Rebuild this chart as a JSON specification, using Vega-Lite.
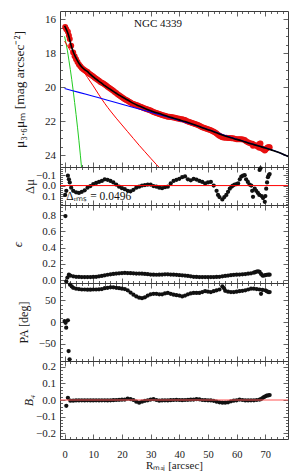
{
"$schema": "https://vega.github.io/schema/vega-lite/v6.json",
"padding": {"left": 10, "top": 10, "right": 8, "bottom": 0},
"spacing": 0,
"bounds": "flush",
"resolve": {"scale": {"x": "independent", "y": "independent"}},
"config": {
  "font": "Liberation Serif",
  "view": {"stroke": "#3a3a3a", "strokeWidth": 1},
  "axis": {"domain": false, "grid": false, "labelFont": "Liberation Serif", "labelFontSize": 11, "labelColor": "#1a1a1a", "titleFont": "Liberation Serif", "titleFontSize": 12, "titleFontWeight": "normal", "titleColor": "#1a1a1a", "tickColor": "#3a3a3a", "tickWidth": 0.8, "labelOverlap": false, "labelFlush": false, "labelBound": false}
},
"datasets": {
  "prof": [
    {"r":0.2,"mu":16.45},{"r":0.6,"mu":16.58},{"r":1.15,"mu":16.73},{"r":1.5,"mu":16.94},{"r":1.8,"mu":17.15},{"r":2.3,"mu":17.55},{"r":3,"mu":17.95},{"r":3.5,"mu":18.17},{"r":4,"mu":18.35},{"r":4.5,"mu":18.51},{"r":5,"mu":18.65},{"r":5.5,"mu":18.76},{"r":6,"mu":18.86},{"r":6.5,"mu":18.93},{"r":7,"mu":19.0},{"r":7.5,"mu":19.05},{"r":8,"mu":19.1},{"r":8.5,"mu":19.18},{"r":9,"mu":19.25},{"r":9.5,"mu":19.31},{"r":10,"mu":19.37},{"r":10.5,"mu":19.44},{"r":11,"mu":19.5},{"r":11.5,"mu":19.56},{"r":12,"mu":19.62},{"r":12.5,"mu":19.68},{"r":13,"mu":19.73},{"r":13.5,"mu":19.78},{"r":14,"mu":19.84},{"r":14.5,"mu":19.9},{"r":15,"mu":19.97},{"r":15.5,"mu":20.03},{"r":16,"mu":20.09},{"r":16.5,"mu":20.15},{"r":17,"mu":20.21},{"r":17.5,"mu":20.28},{"r":18,"mu":20.34},{"r":18.5,"mu":20.41},{"r":19,"mu":20.47},{"r":19.5,"mu":20.53},{"r":20,"mu":20.59},{"r":20.5,"mu":20.65},{"r":21,"mu":20.7},{"r":21.5,"mu":20.75},{"r":22,"mu":20.8},{"r":22.5,"mu":20.85},{"r":23,"mu":20.9},{"r":23.5,"mu":20.95},{"r":24,"mu":20.99},{"r":24.5,"mu":21.02},{"r":25,"mu":21.05},{"r":25.5,"mu":21.08},{"r":26,"mu":21.11},{"r":26.5,"mu":21.15},{"r":27,"mu":21.18},{"r":27.5,"mu":21.22},{"r":28,"mu":21.25},{"r":28.5,"mu":21.28},{"r":29,"mu":21.31},{"r":29.5,"mu":21.34},{"r":30,"mu":21.37},{"r":30.5,"mu":21.41},{"r":31,"mu":21.45},{"r":31.5,"mu":21.48},{"r":32,"mu":21.51},{"r":32.5,"mu":21.54},{"r":33,"mu":21.57},{"r":33.5,"mu":21.6},{"r":34,"mu":21.63},{"r":34.5,"mu":21.66},{"r":35,"mu":21.68},{"r":35.5,"mu":21.71},{"r":36,"mu":21.73},{"r":36.5,"mu":21.74},{"r":37,"mu":21.75},{"r":37.5,"mu":21.77},{"r":38,"mu":21.78},{"r":38.5,"mu":21.8},{"r":39,"mu":21.82},{"r":39.5,"mu":21.84},{"r":40,"mu":21.86},{"r":40.5,"mu":21.88},{"r":41,"mu":21.89},{"r":41.5,"mu":21.91},{"r":42,"mu":21.93},{"r":42.5,"mu":21.98},{"r":43,"mu":22.02},{"r":43.5,"mu":22.05},{"r":44,"mu":22.08},{"r":44.5,"mu":22.1},{"r":45,"mu":22.13},{"r":45.5,"mu":22.16},{"r":46,"mu":22.19},{"r":46.5,"mu":22.23},{"r":47,"mu":22.27},{"r":47.5,"mu":22.31},{"r":48,"mu":22.35},{"r":48.5,"mu":22.39},{"r":49,"mu":22.42},{"r":49.5,"mu":22.45},{"r":50,"mu":22.47},{"r":50.5,"mu":22.5},{"r":51,"mu":22.53},{"r":51.5,"mu":22.57},{"r":52,"mu":22.62},{"r":52.5,"mu":22.67},{"r":53,"mu":22.73},{"r":53.5,"mu":22.8},{"r":54,"mu":22.86},{"r":54.5,"mu":22.9},{"r":55,"mu":22.94},{"r":55.7,"mu":22.97},{"r":56.4,"mu":22.98},{"r":57,"mu":22.99},{"r":57.6,"mu":22.99},{"r":58.2,"mu":23.0},{"r":58.7,"mu":23.01},{"r":59.3,"mu":23.03},{"r":60,"mu":23.06},{"r":60.5,"mu":23.07},{"r":61.1,"mu":23.07},{"r":61.6,"mu":23.06},{"r":62.2,"mu":23.08},{"r":62.8,"mu":23.11},{"r":63.3,"mu":23.18},{"r":63.9,"mu":23.24},{"r":64.5,"mu":23.29},{"r":65.1,"mu":23.33},{"r":65.5,"mu":23.33},{"r":65.7,"mu":23.45},{"r":66.3,"mu":23.4},{"r":66.8,"mu":23.45},{"r":67.4,"mu":23.5},{"r":67.9,"mu":23.56},{"r":68.0,"mu":23.33},{"r":68.3,"mu":23.32},{"r":68.7,"mu":23.6},{"r":69.2,"mu":23.65},{"r":69.8,"mu":23.72},{"r":70.0,"mu":23.68},{"r":70.3,"mu":23.63},{"r":70.6,"mu":23.58},{"r":70.9,"mu":23.54},{"r":71.2,"mu":23.53},{"r":71.5,"mu":23.53}
  ],
  "total": [
    {"r":0,"mu":16.38},{"r":0.5,"mu":16.55},{"r":1,"mu":16.75},{"r":1.5,"mu":17.0},{"r":2,"mu":17.35},{"r":2.5,"mu":17.65},{"r":3,"mu":17.9},{"r":3.5,"mu":18.1},{"r":4,"mu":18.28},{"r":5,"mu":18.58},{"r":6,"mu":18.8},{"r":7,"mu":18.96},{"r":8,"mu":19.08},{"r":9,"mu":19.24},{"r":10,"mu":19.38},{"r":11,"mu":19.52},{"r":12,"mu":19.65},{"r":13,"mu":19.77},{"r":14,"mu":19.9},{"r":15,"mu":20.02},{"r":16,"mu":20.13},{"r":17,"mu":20.24},{"r":18,"mu":20.35},{"r":19,"mu":20.46},{"r":20,"mu":20.56},{"r":22,"mu":20.75},{"r":24,"mu":20.95},{"r":26,"mu":21.1},{"r":28,"mu":21.25},{"r":30,"mu":21.38},{"r":32,"mu":21.5},{"r":34,"mu":21.6},{"r":36,"mu":21.72},{"r":38,"mu":21.82},{"r":40,"mu":21.92},{"r":42,"mu":22.02},{"r":44,"mu":22.13},{"r":46,"mu":22.25},{"r":48,"mu":22.38},{"r":50,"mu":22.5},{"r":52,"mu":22.62},{"r":54,"mu":22.75},{"r":56,"mu":22.87},{"r":58,"mu":22.98},{"r":60,"mu":23.07},{"r":62,"mu":23.17},{"r":64,"mu":23.28},{"r":66,"mu":23.38},{"r":68,"mu":23.48},{"r":70,"mu":23.58},{"r":72,"mu":23.69},{"r":74,"mu":23.8},{"r":76,"mu":23.93},{"r":78,"mu":24.08}
  ],
  "bulge": [
    {"r":0,"mu":17.28},{"r":1,"mu":17.55},{"r":2,"mu":17.83},{"r":3,"mu":18.1},{"r":4,"mu":18.37},{"r":6,"mu":18.9},{"r":8,"mu":19.42},{"r":10,"mu":19.92},{"r":12,"mu":20.45},{"r":14,"mu":20.95},{"r":16,"mu":21.4},{"r":18,"mu":21.82},{"r":20,"mu":22.22},{"r":22,"mu":22.62},{"r":24,"mu":23.02},{"r":26,"mu":23.42},{"r":28,"mu":23.8},{"r":30,"mu":24.18},{"r":32,"mu":24.55},{"r":34,"mu":24.9}
  ],
  "disk": [
    {"r":0,"mu":20.07},{"r":5,"mu":20.3},{"r":10,"mu":20.53},{"r":15,"mu":20.76},{"r":20,"mu":21.0},{"r":25,"mu":21.23},{"r":30,"mu":21.47},{"r":35,"mu":21.71},{"r":40,"mu":21.95},{"r":45,"mu":22.21},{"r":50,"mu":22.49},{"r":55,"mu":22.78},{"r":60,"mu":23.06},{"r":65,"mu":23.32},{"r":70,"mu":23.57},{"r":74,"mu":23.8},{"r":78,"mu":24.08}
  ],
  "nuc": [
    {"r":0,"mu":17.0},{"r":0.5,"mu":17.4},{"r":1,"mu":17.85},{"r":1.5,"mu":18.4},{"r":2,"mu":18.95},{"r":2.5,"mu":19.55},{"r":3,"mu":20.2},{"r":3.5,"mu":20.9},{"r":4,"mu":21.6},{"r":4.5,"mu":22.35},{"r":5,"mu":23.15},{"r":5.5,"mu":24.0},{"r":6,"mu":24.9}
  ],
  "dmu": [
    {"r":0.2,"v":0.09},{"r":0.6,"v":0.05},{"r":1.15,"v":-0.095},{"r":1.5,"v":-0.06},{"r":1.8,"v":-0.03},{"r":2.3,"v":0.02},{"r":3,"v":0.05},{"r":4,"v":0.065},{"r":5,"v":0.07},{"r":6,"v":0.06},{"r":7,"v":0.045},{"r":8,"v":0.02},{"r":9,"v":0.005},{"r":10,"v":-0.015},{"r":11,"v":-0.025},{"r":12,"v":-0.035},{"r":13,"v":-0.045},{"r":14,"v":-0.06},{"r":15,"v":-0.055},{"r":16,"v":-0.045},{"r":17,"v":-0.03},{"r":18,"v":-0.01},{"r":19,"v":0.01},{"r":20,"v":0.025},{"r":21,"v":0.035},{"r":22,"v":0.05},{"r":23,"v":0.055},{"r":24,"v":0.04},{"r":25,"v":0.02},{"r":26,"v":0.01},{"r":27,"v":0},{"r":28,"v":-0.005},{"r":29,"v":-0.01},{"r":30,"v":-0.01},{"r":31,"v":0.005},{"r":32,"v":0.01},{"r":33,"v":0.02},{"r":34,"v":0.025},{"r":35,"v":0.015},{"r":36,"v":0.01},{"r":37,"v":-0.02},{"r":38,"v":-0.045},{"r":39,"v":-0.055},{"r":40,"v":-0.065},{"r":41,"v":-0.08},{"r":42,"v":-0.088},{"r":43,"v":-0.06},{"r":44,"v":-0.05},{"r":45,"v":-0.065},{"r":46,"v":-0.058},{"r":47,"v":-0.045},{"r":48,"v":-0.035},{"r":49,"v":-0.02},{"r":50,"v":-0.03},{"r":51,"v":-0.035},{"r":52,"v":0},{"r":53,"v":0.05},{"r":53.5,"v":0.09},{"r":54,"v":0.11},{"r":55,"v":0.133},{"r":55.7,"v":0.11},{"r":56.4,"v":0.09},{"r":57,"v":0.06},{"r":57.6,"v":0.03},{"r":58.2,"v":0.01},{"r":58.7,"v":0},{"r":59.3,"v":-0.01},{"r":60,"v":-0.015},{"r":60.5,"v":-0.02},{"r":61.1,"v":-0.06},{"r":61.6,"v":-0.085},{"r":62.2,"v":-0.095},{"r":62.8,"v":-0.1},{"r":63.3,"v":-0.06},{"r":63.9,"v":-0.035},{"r":64.5,"v":-0.01},{"r":65.1,"v":0},{"r":65.4,"v":0.05},{"r":65.7,"v":0.108},{"r":66.3,"v":0.03},{"r":66.8,"v":0.05},{"r":67.4,"v":0.07},{"r":67.9,"v":0.09},{"r":68.0,"v":-0.15},{"r":68.3,"v":-0.165},{"r":68.7,"v":0.1},{"r":69.2,"v":0.12},{"r":69.8,"v":0.155},{"r":70.0,"v":0.1},{"r":70.3,"v":0.03},{"r":70.6,"v":-0.03},{"r":70.9,"v":-0.08},{"r":71.2,"v":-0.1},{"r":71.5,"v":-0.11}
  ],
  "ell": [
    {"r":0.3,"v":0.79},{"r":0.6,"v":-0.02},{"r":1.0,"v":0.03},{"r":1.5,"v":0.066},{"r":2,"v":0.055},{"r":3,"v":0.046},{"r":4,"v":0.04},{"r":5,"v":0.038},{"r":6,"v":0.037},{"r":7,"v":0.036},{"r":8,"v":0.036},{"r":9,"v":0.037},{"r":10,"v":0.038},{"r":11,"v":0.04},{"r":12,"v":0.045},{"r":13,"v":0.05},{"r":14,"v":0.058},{"r":15,"v":0.065},{"r":16,"v":0.07},{"r":17,"v":0.075},{"r":18,"v":0.08},{"r":19,"v":0.083},{"r":20,"v":0.086},{"r":21,"v":0.087},{"r":22,"v":0.086},{"r":23,"v":0.085},{"r":24,"v":0.083},{"r":25,"v":0.08},{"r":26,"v":0.08},{"r":27,"v":0.078},{"r":28,"v":0.075},{"r":29,"v":0.072},{"r":30,"v":0.068},{"r":31,"v":0.066},{"r":32,"v":0.065},{"r":33,"v":0.066},{"r":34,"v":0.068},{"r":35,"v":0.07},{"r":36,"v":0.07},{"r":37,"v":0.068},{"r":38,"v":0.066},{"r":39,"v":0.064},{"r":40,"v":0.06},{"r":41,"v":0.058},{"r":42,"v":0.055},{"r":43,"v":0.05},{"r":44,"v":0.045},{"r":45,"v":0.04},{"r":46,"v":0.038},{"r":47,"v":0.037},{"r":48,"v":0.037},{"r":49,"v":0.036},{"r":50,"v":0.036},{"r":51,"v":0.037},{"r":52,"v":0.037},{"r":53,"v":0.038},{"r":54,"v":0.04},{"r":55,"v":0.046},{"r":56,"v":0.05},{"r":57,"v":0.055},{"r":58,"v":0.06},{"r":59,"v":0.064},{"r":60,"v":0.066},{"r":61,"v":0.068},{"r":62,"v":0.07},{"r":63,"v":0.073},{"r":64,"v":0.078},{"r":65,"v":0.082},{"r":66,"v":0.09},{"r":66.5,"v":0.098},{"r":67,"v":0.105},{"r":67.5,"v":0.108},{"r":68,"v":0.1},{"r":68.5,"v":0.075},{"r":69,"v":0.055},{"r":69.5,"v":0.055},{"r":70,"v":0.06},{"r":70.5,"v":0.065},{"r":71,"v":0.066},{"r":71.5,"v":0.066}
  ],
  "pa": [
    {"r":0,"v":2.3},{"r":0.35,"v":-2},{"r":0.56,"v":-13},{"r":1.15,"v":3.9},{"r":1.4,"v":-67},{"r":1.74,"v":-86},{"r":1.9,"v":86},{"r":2.5,"v":82},{"r":3,"v":79},{"r":4,"v":77},{"r":5,"v":76},{"r":6,"v":75},{"r":7,"v":75},{"r":8,"v":74.5},{"r":9,"v":74.5},{"r":10,"v":75},{"r":11,"v":75},{"r":12,"v":75.5},{"r":13,"v":76},{"r":14,"v":78},{"r":15,"v":79},{"r":16,"v":80},{"r":17,"v":80},{"r":18,"v":79},{"r":19,"v":78},{"r":20,"v":77},{"r":21,"v":76},{"r":22,"v":73},{"r":23,"v":68},{"r":24,"v":63},{"r":25,"v":59},{"r":26,"v":56},{"r":27,"v":55},{"r":28,"v":57},{"r":29,"v":61},{"r":30,"v":64},{"r":31,"v":65},{"r":32,"v":65},{"r":33,"v":64},{"r":34,"v":64},{"r":35,"v":66},{"r":36,"v":67},{"r":37,"v":65},{"r":38,"v":63},{"r":39,"v":62},{"r":40,"v":61},{"r":41,"v":59},{"r":42,"v":61},{"r":43,"v":64},{"r":44,"v":66},{"r":45,"v":67},{"r":46,"v":67},{"r":47,"v":67},{"r":48,"v":69},{"r":49,"v":71},{"r":50,"v":70},{"r":51,"v":69},{"r":52,"v":71},{"r":53,"v":73},{"r":54,"v":75},{"r":55,"v":82},{"r":55.6,"v":78},{"r":56,"v":72},{"r":57,"v":70},{"r":58,"v":69},{"r":59,"v":69},{"r":60,"v":70},{"r":61,"v":71},{"r":62,"v":72},{"r":63,"v":73},{"r":64,"v":75},{"r":65,"v":77},{"r":66,"v":77},{"r":67,"v":76},{"r":68,"v":75},{"r":68.5,"v":65},{"r":69,"v":74},{"r":70,"v":73},{"r":70.5,"v":71},{"r":71,"v":69},{"r":71.5,"v":69}
  ],
  "b4": [
    {"r":0.6,"v":-0.035},{"r":1.15,"v":0.013},{"r":2,"v":-0.004},{"r":3,"v":-0.004},{"r":4,"v":-0.003},{"r":5,"v":-0.003},{"r":6,"v":-0.002},{"r":7,"v":-0.003},{"r":8,"v":-0.002},{"r":9,"v":-0.003},{"r":10,"v":-0.003},{"r":11,"v":-0.002},{"r":12,"v":-0.003},{"r":13,"v":-0.002},{"r":14,"v":-0.002},{"r":15,"v":-0.003},{"r":16,"v":-0.002},{"r":17,"v":-0.001},{"r":18,"v":0},{"r":19,"v":0.001},{"r":20,"v":0.002},{"r":21,"v":0.003},{"r":22,"v":0.008},{"r":23,"v":0.006},{"r":24,"v":0},{"r":25,"v":-0.01},{"r":26,"v":-0.016},{"r":27,"v":-0.01},{"r":28,"v":-0.005},{"r":29,"v":-0.002},{"r":30,"v":0.003},{"r":31,"v":0.005},{"r":32,"v":0},{"r":33,"v":-0.004},{"r":34,"v":-0.003},{"r":35,"v":-0.002},{"r":36,"v":-0.003},{"r":37,"v":-0.001},{"r":38,"v":0},{"r":39,"v":0.001},{"r":40,"v":0},{"r":41,"v":-0.001},{"r":42,"v":0},{"r":43,"v":0.001},{"r":44,"v":0.002},{"r":45,"v":0.003},{"r":46,"v":0.005},{"r":47,"v":0.004},{"r":48,"v":0},{"r":49,"v":-0.001},{"r":50,"v":-0.002},{"r":51,"v":-0.003},{"r":52,"v":-0.005},{"r":53,"v":-0.01},{"r":54,"v":-0.014},{"r":55,"v":-0.016},{"r":56,"v":-0.016},{"r":57,"v":-0.014},{"r":58,"v":-0.008},{"r":59,"v":-0.004},{"r":60,"v":-0.002},{"r":61,"v":0.003},{"r":62,"v":0},{"r":63,"v":-0.003},{"r":64,"v":-0.003},{"r":65,"v":-0.002},{"r":66,"v":-0.002},{"r":67,"v":0},{"r":68,"v":0.003},{"r":68.5,"v":0.006},{"r":69,"v":0.012},{"r":69.5,"v":0.018},{"r":70,"v":0.022},{"r":70.5,"v":0.026},{"r":71,"v":0.028},{"r":71.5,"v":0.03}
  ]
},
"vconcat": [
  {
    "width": 228, "height": 156,
    "resolve": {"axis": {"x": "independent", "y": "independent"}},
    "layer": [
      {"data": {"name": "prof"},
       "mark": {"type": "point", "filled": true, "shape": "circle", "size": 36, "fill": "#e81010", "opacity": 1},
       "encoding": {
         "x": {"field": "r", "type": "quantitative", "scale": {"domain": [-1.6, 77.9], "nice": false, "zero": false},
               "axis": {"orient": "bottom", "values": [0,10,20,30,40,50,60,70], "labels": false, "tickSize": -5, "title": null, "minExtent": 0, "maxExtent": 0}},
         "y": {"field": "mu", "type": "quantitative", "scale": {"domain": [15.5, 24.7], "reverse": true, "nice": false, "zero": false},
               "axis": {"orient": "left", "values": [16,18,20,22,24], "tickSize": -5, "format": "d", "labelPadding": 9.5, "title": "μ₃.₆μₘ [mag arcsec⁻²]", "titleFontSize": 13.5, "titlePadding": 0, "minExtent": 34, "maxExtent": 34}}
       }},
      {"data": {"name": "nuc"}, "mark": {"type": "line", "clip": true, "color": "#22cc22", "strokeWidth": 1},
       "encoding": {"x": {"field": "r", "type": "quantitative", "scale": {"domain": [-1.6, 77.9], "nice": false, "zero": false}, "axis": null},
                    "y": {"field": "mu", "type": "quantitative", "scale": {"domain": [15.5, 24.7], "reverse": true, "nice": false, "zero": false}, "axis": null}}},
      {"data": {"name": "bulge"}, "mark": {"type": "line", "clip": true, "color": "#ff0000", "strokeWidth": 1, "interpolate": "monotone"},
       "encoding": {"x": {"field": "r", "type": "quantitative", "scale": {"domain": [-1.6, 77.9], "nice": false, "zero": false}, "axis": null},
                    "y": {"field": "mu", "type": "quantitative", "scale": {"domain": [15.5, 24.7], "reverse": true, "nice": false, "zero": false}, "axis": null}}},
      {"data": {"name": "disk"}, "mark": {"type": "line", "clip": true, "color": "#0000ff", "strokeWidth": 1.1, "interpolate": "monotone"},
       "encoding": {"x": {"field": "r", "type": "quantitative", "scale": {"domain": [-1.6, 77.9], "nice": false, "zero": false}, "axis": null},
                    "y": {"field": "mu", "type": "quantitative", "scale": {"domain": [15.5, 24.7], "reverse": true, "nice": false, "zero": false}, "axis": null}}},
      {"data": {"name": "total"}, "mark": {"type": "line", "clip": true, "color": "#000000", "strokeWidth": 1.6, "interpolate": "monotone"},
       "encoding": {"x": {"field": "r", "type": "quantitative", "scale": {"domain": [-1.6, 77.9], "nice": false, "zero": false}, "axis": null},
                    "y": {"field": "mu", "type": "quantitative", "scale": {"domain": [15.5, 24.7], "reverse": true, "nice": false, "zero": false}, "axis": null}}},
      {"data": {"values": [{"r": 32.6, "mu": 16.27, "label": "NGC 4339"}]},
       "mark": {"type": "text", "font": "Liberation Serif", "fontSize": 11, "align": "center", "baseline": "middle", "color": "#111"},
       "encoding": {"x": {"field": "r", "type": "quantitative", "scale": {"domain": [-1.6, 77.9], "nice": false, "zero": false}, "axis": null},
                    "y": {"field": "mu", "type": "quantitative", "scale": {"domain": [15.5, 24.7], "reverse": true, "nice": false, "zero": false}, "axis": null},
                    "text": {"field": "label"}}},
      {"data": {"name": "disk"}, "mark": {"type": "point", "opacity": 0},
       "encoding": {
         "x": {"field": "r", "type": "quantitative", "scale": {"domain": [-1.6, 77.9], "nice": false, "zero": false},
               "axis": {"orient": "top", "values": [0,10,20,30,40,50,60,70], "labels": false, "tickSize": -5, "title": null, "minExtent": 0, "maxExtent": 0}},
         "y": {"field": "mu", "type": "quantitative", "scale": {"domain": [15.5, 24.7], "reverse": true, "nice": false, "zero": false},
               "axis": {"orient": "right", "values": [16,18,20,22,24], "labels": false, "tickSize": -5, "title": null, "minExtent": 0, "maxExtent": 0}}
       }},
      {"data": {"name": "disk"}, "mark": {"type": "point", "opacity": 0},
       "encoding": {
         "x": {"field": "r", "type": "quantitative", "scale": {"domain": [-1.6, 77.9], "nice": false, "zero": false},
               "axis": {"orient": "bottom", "values": [2,4,6,8,12,14,16,18,22,24,26,28,32,34,36,38,42,44,46,48,52,54,56,58,62,64,66,68,72,74,76], "labels": false, "tickSize": -2.5, "title": null, "minExtent": 0, "maxExtent": 0}},
         "y": {"field": "mu", "type": "quantitative", "scale": {"domain": [15.5, 24.7], "reverse": true, "nice": false, "zero": false},
               "axis": {"orient": "left", "values": [16.5,17,17.5,18.5,19,19.5,20.5,21,21.5,22.5,23,23.5,24.5], "labels": false, "tickSize": -2.5, "title": null, "minExtent": 0, "maxExtent": 0}}
       }},
      {"data": {"name": "disk"}, "mark": {"type": "point", "opacity": 0},
       "encoding": {
         "x": {"field": "r", "type": "quantitative", "scale": {"domain": [-1.6, 77.9], "nice": false, "zero": false},
               "axis": {"orient": "top", "values": [2,4,6,8,12,14,16,18,22,24,26,28,32,34,36,38,42,44,46,48,52,54,56,58,62,64,66,68,72,74,76], "labels": false, "tickSize": -2.5, "title": null, "minExtent": 0, "maxExtent": 0}},
         "y": {"field": "mu", "type": "quantitative", "scale": {"domain": [15.5, 24.7], "reverse": true, "nice": false, "zero": false},
               "axis": {"orient": "right", "values": [16.5,17,17.5,18.5,19,19.5,20.5,21,21.5,22.5,23,23.5,24.5], "labels": false, "tickSize": -2.5, "title": null, "minExtent": 0, "maxExtent": 0}}
       }}
    ]
  },
  {
    "width": 228, "height": 38,
    "resolve": {"axis": {"x": "independent", "y": "independent"}},
    "layer": [
      {"data": {"name": "dmu"},
       "mark": {"type": "circle", "size": 18, "color": "#111", "opacity": 1},
       "encoding": {
         "x": {"field": "r", "type": "quantitative", "scale": {"domain": [-1.6, 77.9], "nice": false, "zero": false},
               "axis": {"orient": "bottom", "values": [0,10,20,30,40,50,60,70], "labels": false, "tickSize": -5, "title": null, "minExtent": 0, "maxExtent": 0}},
         "y": {"field": "v", "type": "quantitative", "scale": {"domain": [-0.178, 0.186], "reverse": true, "nice": false, "zero": false},
               "axis": {"orient": "left", "values": [-0.1, 0, 0.1], "tickSize": -5, "format": ".1f", "labelPadding": 9.5, "title": "Δμ", "titleFontSize": 12.5, "titlePadding": 0, "minExtent": 24, "maxExtent": 24}}
       }},
      {"data": {"values": [{"v": 0}]}, "mark": {"type": "rule", "color": "#ff0000", "strokeWidth": 1},
       "encoding": {"y": {"field": "v", "type": "quantitative", "scale": {"domain": [-0.178, 0.186], "reverse": true, "nice": false, "zero": false}, "axis": null}}},
      {"data": {"values": [{"r": 0.6, "v": 0.14, "label": "Δᵣₘₛ = 0.0496"}]},
       "mark": {"type": "text", "font": "Liberation Serif", "fontSize": 11.5, "align": "left", "baseline": "alphabetic", "color": "#111"},
       "encoding": {"x": {"field": "r", "type": "quantitative", "scale": {"domain": [-1.6, 77.9], "nice": false, "zero": false}, "axis": null},
                    "y": {"field": "v", "type": "quantitative", "scale": {"domain": [-0.178, 0.186], "reverse": true, "nice": false, "zero": false}, "axis": null},
                    "text": {"field": "label"}}},
      {"data": {"name": "dmu"}, "mark": {"type": "point", "opacity": 0},
       "encoding": {
         "x": {"field": "r", "type": "quantitative", "scale": {"domain": [-1.6, 77.9], "nice": false, "zero": false},
               "axis": {"orient": "top", "values": [0,10,20,30,40,50,60,70], "labels": false, "tickSize": -5, "title": null, "minExtent": 0, "maxExtent": 0}},
         "y": {"field": "v", "type": "quantitative", "scale": {"domain": [-0.178, 0.186], "reverse": true, "nice": false, "zero": false},
               "axis": {"orient": "right", "values": [-0.1, 0, 0.1], "labels": false, "tickSize": -5, "title": null, "minExtent": 0, "maxExtent": 0}}
       }},
      {"data": {"name": "dmu"}, "mark": {"type": "point", "opacity": 0},
       "encoding": {
         "x": {"field": "r", "type": "quantitative", "scale": {"domain": [-1.6, 77.9], "nice": false, "zero": false},
               "axis": {"orient": "bottom", "values": [2,4,6,8,12,14,16,18,22,24,26,28,32,34,36,38,42,44,46,48,52,54,56,58,62,64,66,68,72,74,76], "labels": false, "tickSize": -2.5, "title": null, "minExtent": 0, "maxExtent": 0}},
         "y": {"field": "v", "type": "quantitative", "scale": {"domain": [-0.178, 0.186], "reverse": true, "nice": false, "zero": false},
               "axis": {"orient": "left", "values": [-0.16,-0.14,-0.12,-0.08,-0.06,-0.04,-0.02,0.02,0.04,0.06,0.08,0.12,0.14,0.16,0.18], "labels": false, "tickSize": -2.5, "title": null, "minExtent": 0, "maxExtent": 0}}
       }},
      {"data": {"name": "dmu"}, "mark": {"type": "point", "opacity": 0},
       "encoding": {
         "x": {"field": "r", "type": "quantitative", "scale": {"domain": [-1.6, 77.9], "nice": false, "zero": false},
               "axis": {"orient": "top", "values": [2,4,6,8,12,14,16,18,22,24,26,28,32,34,36,38,42,44,46,48,52,54,56,58,62,64,66,68,72,74,76], "labels": false, "tickSize": -2.5, "title": null, "minExtent": 0, "maxExtent": 0}},
         "y": {"field": "v", "type": "quantitative", "scale": {"domain": [-0.178, 0.186], "reverse": true, "nice": false, "zero": false},
               "axis": {"orient": "right", "values": [-0.16,-0.14,-0.12,-0.08,-0.06,-0.04,-0.02,0.02,0.04,0.06,0.08,0.12,0.14,0.16,0.18], "labels": false, "tickSize": -2.5, "title": null, "minExtent": 0, "maxExtent": 0}}
       }}
    ]
  },
  {
    "width": 228, "height": 78,
    "resolve": {"axis": {"x": "independent", "y": "independent"}},
    "layer": [
      {"data": {"name": "ell"},
       "mark": {"type": "circle", "size": 18, "color": "#111", "opacity": 1},
       "encoding": {
         "x": {"field": "r", "type": "quantitative", "scale": {"domain": [-1.6, 77.9], "nice": false, "zero": false},
               "axis": {"orient": "bottom", "values": [0,10,20,30,40,50,60,70], "labels": false, "tickSize": -5, "title": null, "minExtent": 0, "maxExtent": 0}},
         "y": {"field": "v", "type": "quantitative", "scale": {"domain": [-0.037, 0.927], "nice": false, "zero": false},
               "axis": {"orient": "left", "values": [0, 0.2, 0.4, 0.6, 0.8], "tickSize": -5, "format": ".1f", "labelPadding": 9.5, "title": "ϵ", "titleFontSize": 13, "titleFontStyle": "italic", "titlePadding": 0, "minExtent": 36, "maxExtent": 36}}
       }},
      {"data": {"name": "ell"}, "mark": {"type": "point", "opacity": 0},
       "encoding": {
         "x": {"field": "r", "type": "quantitative", "scale": {"domain": [-1.6, 77.9], "nice": false, "zero": false},
               "axis": {"orient": "top", "values": [0,10,20,30,40,50,60,70], "labels": false, "tickSize": -5, "title": null, "minExtent": 0, "maxExtent": 0}},
         "y": {"field": "v", "type": "quantitative", "scale": {"domain": [-0.037, 0.927], "nice": false, "zero": false},
               "axis": {"orient": "right", "values": [0, 0.2, 0.4, 0.6, 0.8], "labels": false, "tickSize": -5, "title": null, "minExtent": 0, "maxExtent": 0}}
       }},
      {"data": {"name": "ell"}, "mark": {"type": "point", "opacity": 0},
       "encoding": {
         "x": {"field": "r", "type": "quantitative", "scale": {"domain": [-1.6, 77.9], "nice": false, "zero": false},
               "axis": {"orient": "bottom", "values": [2,4,6,8,12,14,16,18,22,24,26,28,32,34,36,38,42,44,46,48,52,54,56,58,62,64,66,68,72,74,76], "labels": false, "tickSize": -2.5, "title": null, "minExtent": 0, "maxExtent": 0}},
         "y": {"field": "v", "type": "quantitative", "scale": {"domain": [-0.037, 0.927], "nice": false, "zero": false},
               "axis": {"orient": "left", "values": [0.05,0.1,0.15,0.25,0.3,0.35,0.45,0.5,0.55,0.65,0.7,0.75,0.85,0.9], "labels": false, "tickSize": -2.5, "title": null, "minExtent": 0, "maxExtent": 0}}
       }},
      {"data": {"name": "ell"}, "mark": {"type": "point", "opacity": 0},
       "encoding": {
         "x": {"field": "r", "type": "quantitative", "scale": {"domain": [-1.6, 77.9], "nice": false, "zero": false},
               "axis": {"orient": "top", "values": [2,4,6,8,12,14,16,18,22,24,26,28,32,34,36,38,42,44,46,48,52,54,56,58,62,64,66,68,72,74,76], "labels": false, "tickSize": -2.5, "title": null, "minExtent": 0, "maxExtent": 0}},
         "y": {"field": "v", "type": "quantitative", "scale": {"domain": [-0.037, 0.927], "nice": false, "zero": false},
               "axis": {"orient": "right", "values": [0.05,0.1,0.15,0.25,0.3,0.35,0.45,0.5,0.55,0.65,0.7,0.75,0.85,0.9], "labels": false, "tickSize": -2.5, "title": null, "minExtent": 0, "maxExtent": 0}}
       }}
    ]
  },
  {
    "width": 228, "height": 78,
    "resolve": {"axis": {"x": "independent", "y": "independent"}},
    "layer": [
      {"data": {"name": "pa"},
       "mark": {"type": "circle", "size": 18, "color": "#111", "opacity": 1},
       "encoding": {
         "x": {"field": "r", "type": "quantitative", "scale": {"domain": [-1.6, 77.9], "nice": false, "zero": false},
               "axis": {"orient": "bottom", "values": [0,10,20,30,40,50,60,70], "labels": false, "tickSize": -5, "title": null, "minExtent": 0, "maxExtent": 0}},
         "y": {"field": "v", "type": "quantitative", "scale": {"domain": [-90, 90], "nice": false, "zero": false},
               "axis": {"orient": "left", "values": [-50, 0, 50], "tickSize": -5, "format": "d", "labelPadding": 9.5, "title": "PA [deg]", "titlePadding": 0, "minExtent": 30, "maxExtent": 30}}
       }},
      {"data": {"name": "pa"}, "mark": {"type": "point", "opacity": 0},
       "encoding": {
         "x": {"field": "r", "type": "quantitative", "scale": {"domain": [-1.6, 77.9], "nice": false, "zero": false},
               "axis": {"orient": "top", "values": [0,10,20,30,40,50,60,70], "labels": false, "tickSize": -5, "title": null, "minExtent": 0, "maxExtent": 0}},
         "y": {"field": "v", "type": "quantitative", "scale": {"domain": [-90, 90], "nice": false, "zero": false},
               "axis": {"orient": "right", "values": [-50, 0, 50], "labels": false, "tickSize": -5, "title": null, "minExtent": 0, "maxExtent": 0}}
       }},
      {"data": {"name": "pa"}, "mark": {"type": "point", "opacity": 0},
       "encoding": {
         "x": {"field": "r", "type": "quantitative", "scale": {"domain": [-1.6, 77.9], "nice": false, "zero": false},
               "axis": {"orient": "bottom", "values": [2,4,6,8,12,14,16,18,22,24,26,28,32,34,36,38,42,44,46,48,52,54,56,58,62,64,66,68,72,74,76], "labels": false, "tickSize": -2.5, "title": null, "minExtent": 0, "maxExtent": 0}},
         "y": {"field": "v", "type": "quantitative", "scale": {"domain": [-90, 90], "nice": false, "zero": false},
               "axis": {"orient": "left", "values": [-80,-70,-60,-40,-30,-20,-10,10,20,30,40,60,70,80], "labels": false, "tickSize": -2.5, "title": null, "minExtent": 0, "maxExtent": 0}}
       }},
      {"data": {"name": "pa"}, "mark": {"type": "point", "opacity": 0},
       "encoding": {
         "x": {"field": "r", "type": "quantitative", "scale": {"domain": [-1.6, 77.9], "nice": false, "zero": false},
               "axis": {"orient": "top", "values": [2,4,6,8,12,14,16,18,22,24,26,28,32,34,36,38,42,44,46,48,52,54,56,58,62,64,66,68,72,74,76], "labels": false, "tickSize": -2.5, "title": null, "minExtent": 0, "maxExtent": 0}},
         "y": {"field": "v", "type": "quantitative", "scale": {"domain": [-90, 90], "nice": false, "zero": false},
               "axis": {"orient": "right", "values": [-80,-70,-60,-40,-30,-20,-10,10,20,30,40,60,70,80], "labels": false, "tickSize": -2.5, "title": null, "minExtent": 0, "maxExtent": 0}}
       }}
    ]
  },
  {
    "width": 228, "height": 78,
    "resolve": {"axis": {"x": "independent", "y": "independent"}},
    "layer": [
      {"data": {"name": "b4"},
       "mark": {"type": "circle", "size": 18, "color": "#111", "opacity": 1},
       "encoding": {
         "x": {"field": "r", "type": "quantitative", "scale": {"domain": [-1.6, 77.9], "nice": false, "zero": false},
               "axis": {"orient": "bottom", "values": [0,10,20,30,40,50,60,70], "tickSize": -5, "format": "d", "labelPadding": 15, "labelFontSize": 10.5, "title": "Rₘₐⱼ [arcsec]", "titleFontSize": 11, "titlePadding": 0}},
         "y": {"field": "v", "type": "quantitative", "scale": {"domain": [-0.236, 0.236], "nice": false, "zero": false},
               "axis": {"orient": "left", "values": [-0.2,-0.1,0,0.1,0.2], "tickSize": -5, "format": ".1f", "labelPadding": 9.5, "title": "B₄", "titleFontStyle": "italic", "titlePadding": 0, "minExtent": 25, "maxExtent": 25}}
       }},
      {"data": {"values": [{"v": 0}]}, "mark": {"type": "rule", "color": "#ff5555", "strokeWidth": 1},
       "encoding": {"y": {"field": "v", "type": "quantitative", "scale": {"domain": [-0.236, 0.236], "nice": false, "zero": false}, "axis": null}}},
      {"data": {"name": "b4"}, "mark": {"type": "point", "opacity": 0},
       "encoding": {
         "x": {"field": "r", "type": "quantitative", "scale": {"domain": [-1.6, 77.9], "nice": false, "zero": false},
               "axis": {"orient": "top", "values": [0,10,20,30,40,50,60,70], "labels": false, "tickSize": -5, "title": null, "minExtent": 0, "maxExtent": 0}},
         "y": {"field": "v", "type": "quantitative", "scale": {"domain": [-0.236, 0.236], "nice": false, "zero": false},
               "axis": {"orient": "right", "values": [-0.2,-0.1,0,0.1,0.2], "labels": false, "tickSize": -5, "title": null, "minExtent": 0, "maxExtent": 0}}
       }},
      {"data": {"name": "b4"}, "mark": {"type": "point", "opacity": 0},
       "encoding": {
         "x": {"field": "r", "type": "quantitative", "scale": {"domain": [-1.6, 77.9], "nice": false, "zero": false},
               "axis": {"orient": "bottom", "values": [2,4,6,8,12,14,16,18,22,24,26,28,32,34,36,38,42,44,46,48,52,54,56,58,62,64,66,68,72,74,76], "labels": false, "tickSize": -2.5, "title": null, "minExtent": 0, "maxExtent": 0}},
         "y": {"field": "v", "type": "quantitative", "scale": {"domain": [-0.236, 0.236], "nice": false, "zero": false},
               "axis": {"orient": "left", "values": [-0.22,-0.18,-0.16,-0.14,-0.12,-0.08,-0.06,-0.04,-0.02,0.02,0.04,0.06,0.08,0.12,0.14,0.16,0.18,0.22], "labels": false, "tickSize": -2.5, "title": null, "minExtent": 0, "maxExtent": 0}}
       }},
      {"data": {"name": "b4"}, "mark": {"type": "point", "opacity": 0},
       "encoding": {
         "x": {"field": "r", "type": "quantitative", "scale": {"domain": [-1.6, 77.9], "nice": false, "zero": false},
               "axis": {"orient": "top", "values": [2,4,6,8,12,14,16,18,22,24,26,28,32,34,36,38,42,44,46,48,52,54,56,58,62,64,66,68,72,74,76], "labels": false, "tickSize": -2.5, "title": null, "minExtent": 0, "maxExtent": 0}},
         "y": {"field": "v", "type": "quantitative", "scale": {"domain": [-0.236, 0.236], "nice": false, "zero": false},
               "axis": {"orient": "right", "values": [-0.22,-0.18,-0.16,-0.14,-0.12,-0.08,-0.06,-0.04,-0.02,0.02,0.04,0.06,0.08,0.12,0.14,0.16,0.18,0.22], "labels": false, "tickSize": -2.5, "title": null, "minExtent": 0, "maxExtent": 0}}
       }}
    ]
  }
]
}
